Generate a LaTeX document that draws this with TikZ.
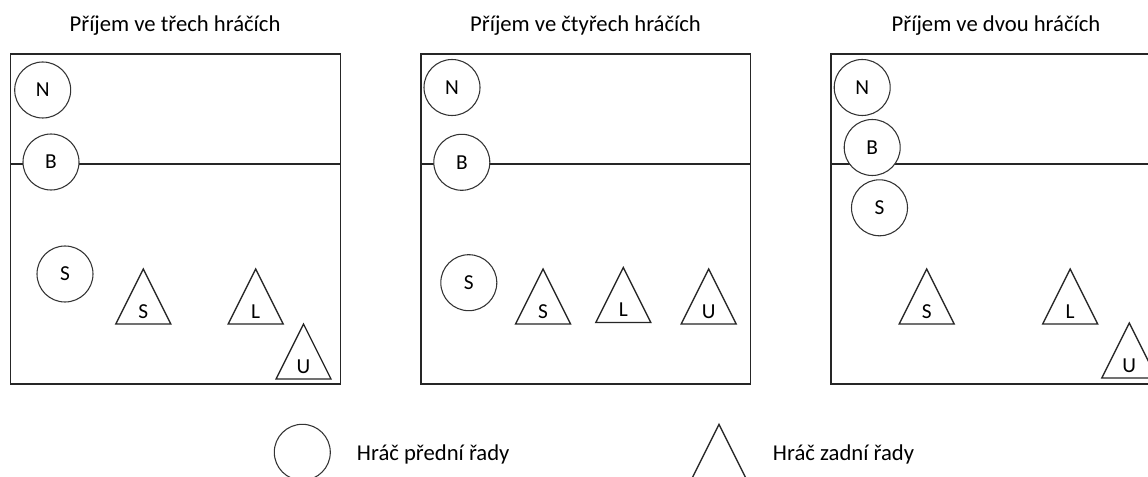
\documentclass[tikz,border=0pt]{standalone}
\usepackage{fontspec}
\setmainfont{Carlito}
\newcommand\backrow[4]{%
  \draw[court] (#2-27.5,#3) -- (#2,#3-55) -- (#2+27.5,#3) -- cycle;
  \node[lbl] (#1) at (#2,#3-6) {#4};%
}
\begin{document}
\begin{tikzpicture}[x=0.75pt,y=-0.75pt]
\tikzset{
  player/.style={circle,draw=black!80,fill=white,line width=0.8pt,minimum size=42pt,inner sep=0pt,font=\fontsize{16}{18}\selectfont},
  lbl/.style={inner sep=0pt,anchor=base,font=\fontsize{16}{18}\selectfont},
  title/.style={inner sep=0pt,anchor=base,font=\fontsize{17}{20}\selectfont},
  legtext/.style={inner sep=0pt,anchor=base west,font=\fontsize{17}{20}\selectfont},
  court/.style={draw=black!85,line width=1pt},
}
\useasboundingbox (0,0) rectangle (1148,477);
\clip (0,0) rectangle (1148,477);
\fill[white] (0,0) rectangle (1148,477);

% titles
\node[title] (t1) at (175,31.7) {Příjem ve třech hráčích};
\node[title] (t2) at (585.5,31.7) {Příjem ve čtyřech hráčích};
\node[title] (t3) at (996,31.7) {Příjem ve dvou hráčích};

% courts
\draw[court] (10.5,54) rectangle (340.5,384);
\draw[court] (10.5,164) -- (340.5,164);
\draw[court] (421,54) rectangle (750.7,384);
\draw[court] (421,164) -- (750.7,164);
\draw[court] (831,54) rectangle (1170,384);
\draw[court] (831,164) -- (1170,164);

% court 1
\node[player] (n1) at (42.7,90) {N};
\node[player] (b1) at (51,162) {B};
\node[player] (s1) at (65,274) {S};
\backrow{ts1}{143.3}{324}{S}
\backrow{tl1}{255.7}{324}{L}
\backrow{tu1}{303.5}{379}{U}

% court 2
\node[player] (n2) at (452,87.5) {N};
\node[player] (b2) at (461.8,162.3) {B};
\node[player] (s2) at (468.8,282.7) {S};
\backrow{ts2}{543}{324}{S}
\backrow{tl2}{623.3}{322.5}{L}
\backrow{tu2}{708.7}{324}{U}

% court 3
\node[player] (n3) at (862.2,87.5) {N};
\node[player] (b3) at (872.2,147.5) {B};
\node[player] (s3) at (879.5,207.8) {S};
\backrow{ts3}{926.7}{324}{S}
\backrow{tl3}{1070.2}{324}{L}
\backrow{tu3}{1129.3}{378}{U}

% legend
\node[player] (legc) at (302.3,452.3) {};
\node[legtext] (legct) at (356.7,460) {Hráč přední řady};
\backrow{legtr}{719}{479.3}{}
\node[legtext] (legtt) at (772.7,460) {Hráč zadní řady};
\end{tikzpicture}
\end{document}
